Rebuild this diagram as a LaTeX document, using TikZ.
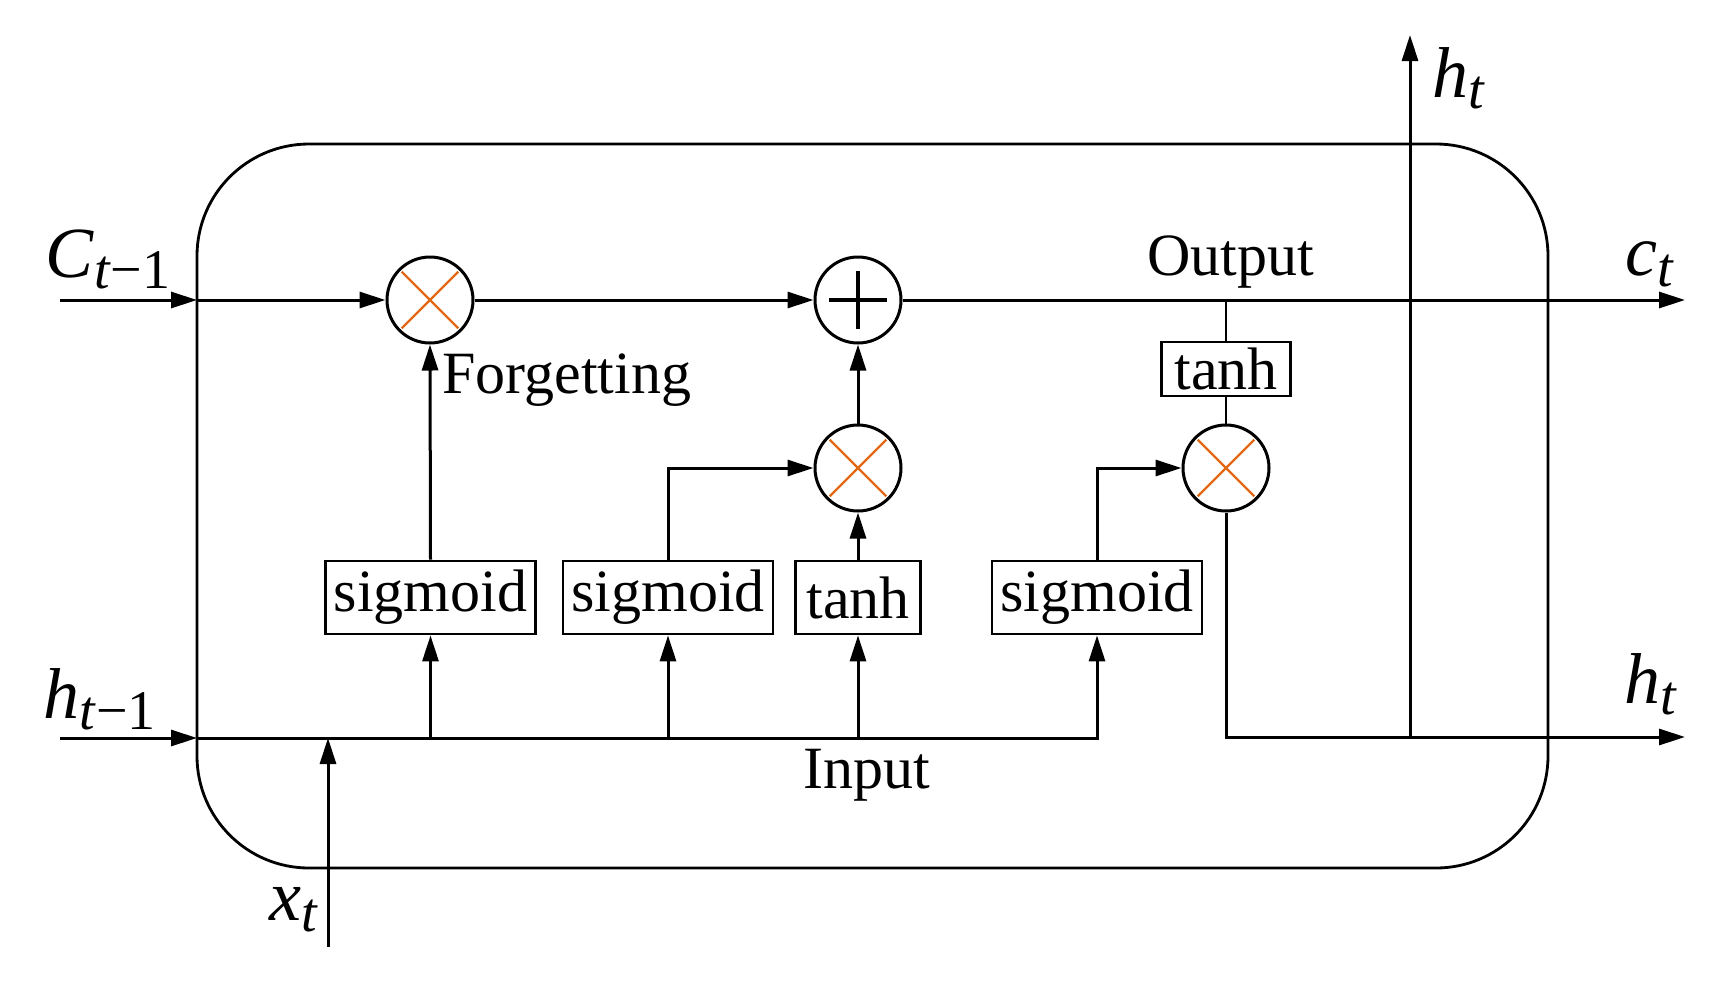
\documentclass[tikz,border=0pt]{standalone}
\usepackage{fontspec}
\setmainfont{Liberation Serif}
\usetikzlibrary{arrows.meta,calc}
\newcommand{\mysub}[1]{\raisebox{-5.5pt}{\fontsize{28pt}{28pt}\selectfont #1}}
\begin{document}
\begin{tikzpicture}[x=0.5pt,y=-0.5pt,
  arr/.style={line width=1.5pt,-{Triangle[length=13pt,width=8pt]}},
  ln/.style={line width=1.5pt},
  thinln/.style={line width=1.2pt},
  opcirc/.style={circle,draw,line width=1.5pt,minimum size=43pt,inner sep=0pt},
  fbox/.style={draw,line width=1.4pt,minimum height=36.5pt,inner sep=0pt,font=\fontsize{30pt}{30pt}\selectfont},
  wbox/.style={fbox,minimum width=105pt},
  xmark/.style={line width=1.1pt,draw={rgb,255:red,225;green,105;blue,20}},
  lbl/.style={inner sep=0pt,anchor=base west,font=\fontsize{36pt}{36pt}\selectfont},
  txt/.style={inner sep=0pt,anchor=base west,font=\fontsize{30pt}{30pt}\selectfont}]
\useasboundingbox (0,0) rectangle (1720,986);
\fill[white] (0,0) rectangle (1720,986);
% outer rounded cell
\draw[line width=1.4pt,rounded corners=56pt] (197,144) rectangle (1548,868);
% operators
\node[opcirc] (f) at (430,300) {};
\node[opcirc] (p) at (858,300) {};
\node[opcirc] (im) at (858,468) {};
\node[opcirc] (om) at (1226,468) {};
% boxes
\node[wbox] (s1) at (430.5,597.5) {sigmoid};
\node[wbox] (s2) at (668,597.5) {sigmoid};
\node[fbox,minimum width=62.5pt] (t1) at (858,597.5) {tanh};
\node[wbox] (s3) at (1097,597.5) {sigmoid};
\node[fbox,minimum width=64.5pt,minimum height=27pt] (t2) at (1226,369) {tanh};
% marks inside operators
\foreach \c in {f,im,om}{
  \draw[xmark] ($(\c.center)!0.9!(\c.north west)$) -- ($(\c.center)!0.9!(\c.south east)$);
  \draw[xmark] ($(\c.center)!0.9!(\c.north east)$) -- ($(\c.center)!0.9!(\c.south west)$);
}
\draw[line width=2pt] ($(p.center)!0.65!(p.north)$) -- ($(p.center)!0.65!(p.south)$);
\draw[line width=2pt] ($(p.center)!0.65!(p.west)$) -- ($(p.center)!0.65!(p.east)$);
% coordinates
\coordinate (cin) at (60,300);
\coordinate (cbox) at (197,300);
\coordinate (cout) at (1685,300);
\coordinate (hin) at (60,738);
\coordinate (hbox) at (197,738);
\coordinate (hcorner) at (1097,738);
\coordinate (xin) at (328,947);
\coordinate (xtip) at (328,738);
\coordinate (hout) at (1685,737);
\coordinate (hj) at (1410,737);
\coordinate (htop) at (1410,35);
% cell state line
\draw[arr] (cin) -- (cbox);
\draw[arr] (cbox) -- (f);
\draw[arr] (f) -- (p);
\draw[arr] (p) -- (cout);
% hidden input line
\draw[arr] (hin) -- (hbox);
\draw[arr] (hbox) -- (hcorner) -- (s3.south);
\draw[arr] (s1.south |- hbox) -- (s1.south);
\draw[arr] (s2.south |- hbox) -- (s2.south);
\draw[arr] (t1.south |- hbox) -- (t1.south);
\draw[arr] (xin) -- (xtip);
% gates
\draw[arr] (s1.north) -- (f.south);
\draw[arr] (s2.north) |- (im.west);
\draw[arr] (t1.north) -- (im.south);
\draw[arr] (im.north) -- (p.south);
\draw[arr] (s3.north) |- (om.west);
% output
\draw[thinln] (om.north) -- (t2.south);
\draw[thinln] (t2.north) -- (t2.north |- p.east);
\draw[arr] (om.south) |- (hout);
\draw[arr] (hj) -- (htop);
% labels
\node[lbl] (lC) at (45,277) {\textit{C}\mysub{\textit{t}−1}};
\node[lbl] (lh) at (43,718) {\textit{h}\mysub{\textit{t}−1}};
\node[lbl] (lht) at (1432,97) {\textit{h}\mysub{\textit{t}}};
\node[lbl] (lct) at (1625,275) {\textit{c}\mysub{\textit{t}}};
\node[lbl] (lhb) at (1624,703) {\textit{h}\mysub{\textit{t}}};
\node[lbl] (lx) at (269,920) {\textit{x}\mysub{\textit{t}}};
\node[txt] (lF) at (442,393) {Forgetting};
\node[txt] (lO) at (1147,275) {Output};
\node[txt] (lI) at (803,788) {Input};
\end{tikzpicture}
\end{document}
